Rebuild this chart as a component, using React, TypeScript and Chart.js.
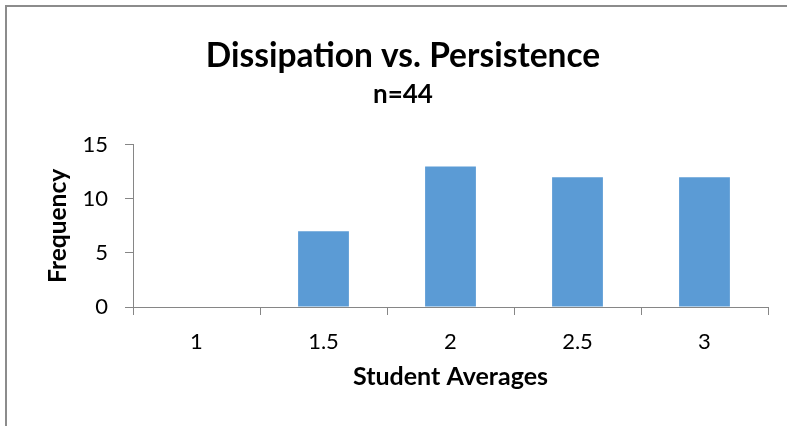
import React, { useEffect, useRef } from "react";
import { Chart, registerables } from "chart.js";

Chart.register(...registerables);

const categories = ["1", "1.5", "2", "2.5", "3"];
const frequencies = [0, 7, 13, 12, 12];
const titleText = "Dissipation vs. Persistence";
const subtitleText = "n=44";
const xTitle = "Student Averages";
const yTitle = "Frequency";

const FONT = "Lato, 'Open Sans', sans-serif";
const AXIS = "#868686";

export default function App() {
  const ref = useRef<HTMLCanvasElement | null>(null);

  useEffect(() => {
    if (!ref.current) return;
    const chart = new Chart(ref.current, {
      type: "bar",
      data: {
        labels: categories,
        datasets: [
          {
            data: frequencies,
            backgroundColor: "#5B9BD5",
            barPercentage: 0.4,
            categoryPercentage: 1.0,
          },
        ],
      },
      options: {
        animation: false,
        responsive: false,
        devicePixelRatio: 1,
        layout: { padding: { left: 38, right: 19, top: 0, bottom: 0 } },
        plugins: {
          legend: { display: false },
          tooltip: { enabled: false },
          title: {
            display: true,
            text: titleText,
            color: "#000",
            font: { family: FONT, size: 33.5, weight: "bold" },
            padding: { top: 36, bottom: 3 },
          },
          subtitle: {
            display: true,
            text: subtitleText,
            color: "#000",
            font: { family: FONT, size: 26, weight: "bold" },
            padding: { top: 0, bottom: 34.4 },
          },
        },
        scales: {
          x: {
            grid: {
              display: true,
              drawOnChartArea: false,
              drawTicks: true,
              tickLength: 8,
              color: AXIS,
              offset: true,
            },
            border: { display: true, color: AXIS, width: 1 },
            ticks: {
              color: "#000",
              font: { family: FONT, size: 22 },
              padding: 14,
              maxRotation: 0,
            },
            title: {
              display: true,
              text: xTitle,
              color: "#000",
              font: { family: FONT, size: 25, weight: "bold" },
              padding: { top: 0, bottom: 34 },
            },
            afterFit: (scale: any) => {
              scale.height = 119;
            },
          },
          y: {
            min: 0,
            max: 15,
            grid: {
              display: true,
              drawOnChartArea: false,
              drawTicks: true,
              tickLength: 8,
              color: AXIS,
            },
            border: { display: true, color: AXIS, width: 1 },
            ticks: {
              stepSize: 5,
              color: "#000",
              font: { family: FONT, size: 22 },
              padding: 17,
            },
            title: {
              display: true,
              text: yTitle,
              color: "#000",
              font: { family: FONT, size: 24.5, weight: "bold" },
              padding: { top: 5, bottom: 0 },
            },
            afterFit: (scale: any) => {
              scale.width = 95;
            },
          },
        },
      },
    });
    return () => chart.destroy();
  }, []);

  return (
    <div
      style={{
        position: "fixed",
        left: 0,
        top: 0,
        width: 787,
        height: 426,
        background: "#fff",
        overflow: "hidden",
      }}
    >
      <canvas
        ref={ref}
        width={787}
        height={426}
        style={{ position: "absolute", left: 0, top: 0, width: 787, height: 426 }}
      />
      <div
        style={{
          position: "absolute",
          left: 5,
          top: 5,
          width: 800,
          height: 440,
          borderTop: "2px solid #8c8c8c",
          borderLeft: "2px solid #8c8c8c",
          boxSizing: "border-box",
          pointerEvents: "none",
        }}
      />
    </div>
  );
}
